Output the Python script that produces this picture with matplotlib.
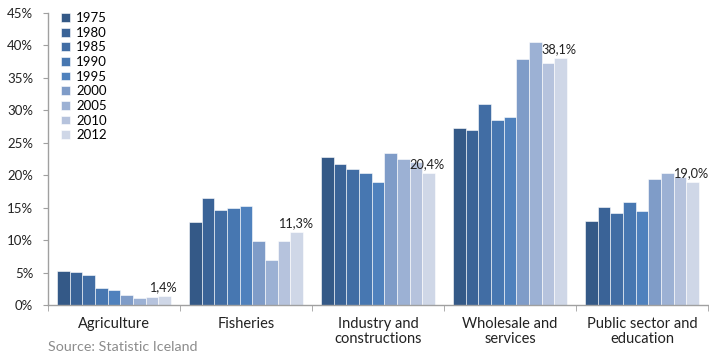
import numpy as np
import matplotlib.pyplot as plt
from matplotlib.ticker import FixedLocator, PercentFormatter

plt.rcParams['font.family'] = ['Lato', 'DejaVu Sans']

# Share of employment by sector, percent
sectors = ["Agriculture", "Fisheries", "Industry and\nconstructions",
           "Wholesale and\nservices", "Public sector and\neducation"]
years = ["1975", "1980", "1985", "1990", "1995", "2000", "2005", "2010", "2012"]
agriculture = [5.2, 5.1, 4.6, 2.6, 2.3, 1.5, 1.1, 1.2, 1.4]
fisheries = [12.8, 16.5, 14.6, 15.0, 15.3, 9.9, 6.9, 9.9, 11.3]
industry = [22.8, 21.8, 21.0, 20.3, 19.0, 23.5, 22.5, 22.0, 20.4]
wholesale = [27.2, 27.0, 31.0, 28.5, 28.9, 37.9, 40.6, 37.3, 38.1]
public = [13.0, 15.1, 14.2, 15.9, 14.5, 19.4, 20.3, 19.8, 19.0]

colors = ["#345987", "#3a6397", "#416da4", "#4777b1", "#4f81bd",
          "#7f9cc8", "#9cb1d4", "#b6c3dd", "#cfd7e7"]

values = np.array([agriculture, fisheries, industry, wholesale, public])

fig = plt.figure(figsize=(7.09, 3.57), dpi=100)
ax = fig.add_axes([0.0677, 0.1457, 0.9309, 0.8179])

n_years = len(years)
group = 0.864
width = group / n_years
x = np.arange(len(sectors))

for i, year in enumerate(years):
    pos = x - group / 2 + width * (i + 0.5)
    ax.bar(pos, values[:, i], width=width, color=colors[i],
           edgecolor="white", linewidth=0.4, label=year, zorder=2)

# value labels on the latest year
last = values[:, -1]
for xi, v in zip(x, last):
    pos = xi - group / 2 + width * (n_years - 0.5)
    ax.annotate(f"{v:.1f}%".replace(".", ","), (pos, v),
                xytext=(-1.2, 2), textcoords="offset points",
                ha="center", va="bottom", fontsize=9.2, color="#222222",
                annotation_clip=False)

ax.set_xlim(-0.5, len(sectors) - 0.5)
ax.set_ylim(0, 45)
ax.set_yticks(np.arange(0, 46, 5))
ax.yaxis.set_major_formatter(PercentFormatter(decimals=0))

ax.set_xticks(x)
ax.set_xticklabels(sectors, fontsize=10.5, color="#222222", linespacing=1.1)
ax.tick_params(axis="x", which="major", length=0, pad=8.5)
ax.xaxis.set_minor_locator(FixedLocator(np.arange(-0.5, len(sectors), 1)))
ax.tick_params(axis="x", which="minor", length=4, color="#a0a0a0", direction="out")
ax.tick_params(axis="y", length=3.6, color="#a0a0a0", labelsize=9.5,
               labelcolor="#222222", pad=7)

for side in ["top", "right"]:
    ax.spines[side].set_visible(False)
for side in ["left", "bottom"]:
    ax.spines[side].set_color("#a0a0a0")
    ax.spines[side].set_linewidth(1.0)

ax.legend(loc="upper left", bbox_to_anchor=(0.086, 0.966),
          bbox_transform=fig.transFigure, frameon=False, fontsize=9.5,
          handlelength=0.65, handleheight=0.65, handletextpad=0.5,
          labelspacing=0.2, borderaxespad=0, borderpad=0)

fig.text(0.068, 0.028, "Source: Statistic Iceland", fontsize=10.3,
         color="#8c8c8c", va="center")

fig.savefig("out.png", dpi=100)
